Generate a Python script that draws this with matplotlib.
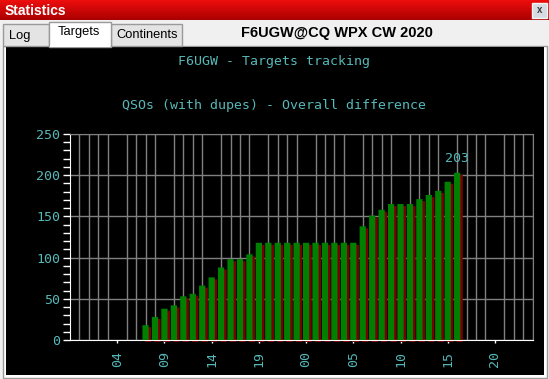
import numpy as np
import matplotlib
matplotlib.use("Agg")
import matplotlib.pyplot as plt
from matplotlib.patches import Rectangle
from matplotlib.ticker import MultipleLocator
from matplotlib.transforms import ScaledTranslation

# QSOs (with dupes) per contest hour, first bar is 07h of day 1
start_hour = 7
qsos = [18, 28, 38, 42, 53, 56, 66, 76, 88, 98, 98, 104,
        118, 118, 118, 118, 118, 118, 118, 118, 118, 118, 118,
        138, 151, 158, 165, 165, 165, 171, 176, 181, 192, 203]
hours = list(range(start_hour, start_hour + len(qsos)))

tick_hours = [4, 9, 14, 19, 24, 29, 34, 39, 44]
tick_labels = ["04", "09", "14", "19", "00", "05", "10", "15", "20"]

window_title = "Statistics"
tabs = ["Log", "Targets", "Continents"]
contest = "F6UGW@CQ WPX CW 2020"
chart_title = "F6UGW - Targets tracking"
chart_subtitle = "QSOs (with dupes) - Overall difference"

CYAN = "#56b8b8"
GRID = "#808080"
MONO = "DejaVu Sans Mono"
UI = "Liberation Sans"

W, H = 549, 379
fig = plt.figure(figsize=(W / 100, H / 100), dpi=100, facecolor="#f0f0f0")


def px(x0, y0, x1, y1):
    # pixel box (origin top-left) -> figure fraction rect
    return [x0 / W, 1 - y1 / H, (x1 - x0) / W, (y1 - y0) / H]


# --- window chrome, drawn in pixel coordinates ---
bg = fig.add_axes([0, 0, 1, 1], zorder=0)
bg.axis("off")

top = np.array([240, 14, 14]) / 255
bottom = np.array([172, 0, 0]) / 255
t = np.linspace(0, 1, 21)[:, None, None]
grad = top * (1 - t) + bottom * t
bg.imshow(grad, extent=[0, W, 20.5, 0], aspect="auto", interpolation="bilinear")
bg.text(5, 11, window_title, color="white", fontsize=10, fontweight="bold",
        family=UI, ha="left", va="center")

# close button
bg.add_patch(Rectangle((532, 2.5), 14.5, 15, facecolor="#d6dbe3", edgecolor="#f4f4f4", lw=1))
bg.text(539.3, 10.2, "x", color="#3a3a3a", fontsize=7, fontweight="bold",
        family=UI, ha="center", va="center")

# tab frame and black panel
bg.add_patch(Rectangle((3, 45.5), 543.5, 332, facecolor="white", edgecolor="#9a9a9a", lw=1))
bg.add_patch(Rectangle((5.5, 47), 538.5, 328, facecolor="black", edgecolor="none"))

# tabs
bg.add_patch(Rectangle((2.5, 24), 46.5, 21.5, facecolor="#e4e4e4", edgecolor="#9a9a9a", lw=1))
bg.add_patch(Rectangle((111, 24), 70.5, 21.5, facecolor="#e4e4e4", edgecolor="#9a9a9a", lw=1))
bg.add_patch(Rectangle((49, 21.5), 62, 25, facecolor="white", edgecolor="#9a9a9a", lw=1))
bg.add_patch(Rectangle((49.8, 45), 60.5, 1.6, facecolor="white", edgecolor="none"))
bg.text(9, 35.5, tabs[0], fontsize=9.3, family=UI, ha="left", va="center")
bg.text(57.5, 32.5, tabs[1], fontsize=9.3, family=UI, ha="left", va="center")
bg.text(116, 35.5, tabs[2], fontsize=9.3, family=UI, ha="left", va="center")
bg.text(337, 33, contest, fontsize=10.5, fontweight="bold", family=UI,
        ha="center", va="center")

# chart titles
bg.text(274.5, 61, chart_title, color=CYAN, fontsize=9.5, family=MONO,
        ha="center", va="center")
bg.text(274.5, 105, chart_subtitle, color=CYAN, fontsize=9.5, family=MONO,
        ha="center", va="center")

bg.set_xlim(0, W)
bg.set_ylim(H, 0)

# --- the chart ---
ax = fig.add_axes(px(70, 134, 532.7, 340), zorder=1)
ax.set_facecolor("black")
ax.set_xlim(-1, 48)
ax.set_ylim(0, 250)

# dark red drop shadow, offset right and down of each green bar
shadow = ax.transData + ScaledTranslation(2.5 / fig.dpi, -2 / fig.dpi, fig.dpi_scale_trans)
ax.bar(hours, qsos, width=0.66, color="#7a0000", lw=0, transform=shadow,
       clip_on=False, snap=False, zorder=2)
ax.bar(hours, qsos, width=0.66, color="#008000", lw=0, snap=False, zorder=3)

ax.annotate(str(qsos[-1]), (hours[-1], qsos[-1]), xytext=(0, 8), textcoords="offset points",
            ha="center", va="baseline", color=CYAN, fontsize=9.5, family=MONO)

ax.set_xticks(tick_hours, tick_labels, rotation=90)
ax.set_xticks(range(0, 49), minor=True)
ax.tick_params(axis="x", which="minor", length=0)
ax.tick_params(axis="x", which="major", length=2.2, width=1, color="white", pad=5.5,
               labelcolor=CYAN, labelsize=9.5)
ax.set_yticks(range(0, 251, 50))
ax.yaxis.set_minor_locator(MultipleLocator(10))
ax.tick_params(axis="y", which="both", length=4.8, width=1, color="white", pad=2.4,
               labelcolor=CYAN, labelsize=9.5)
for lab in ax.get_xticklabels() + ax.get_yticklabels():
    lab.set_family(MONO)

ax.grid(axis="x", which="minor", color=GRID, lw=1)
ax.grid(axis="y", which="major", color=GRID, lw=1)

for side in ["bottom", "left"]:
    ax.spines[side].set_color("white")
for side in ["top", "right"]:
    ax.spines[side].set_color(GRID)

fig.savefig("out.png", dpi=100, facecolor=fig.get_facecolor())
